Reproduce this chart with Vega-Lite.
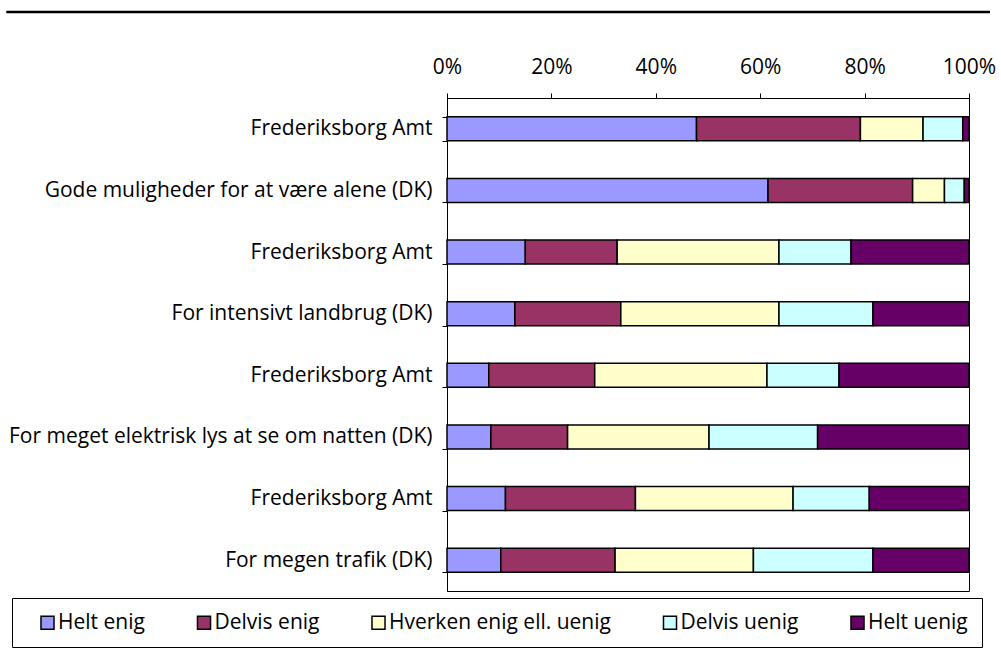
{
  "$schema": "https://vega.github.io/schema/vega-lite/v6.json",
  "padding": {"left": 5, "top": 2, "right": 4, "bottom": 2},
  "background": "white",
  "columns": 1,
  "align": "none",
  "spacing": 33,
  "config": {"font": "Open Sans", "view": {"stroke": null}},
  "concat": [
    {
      "width": 543,
      "height": 0,
      "data": {"values": [{"a": 0, "b": 1}]},
      "mark": {"type": "rule", "strokeWidth": 2.5, "color": "black"},
      "encoding": {
        "x": {"field": "a", "type": "quantitative", "axis": null, "scale": {"domain": [0.448, 1]}},
        "x2": {"field": "b"}
      }
    },
    {
      "width": 522,
      "height": 493,
      "view": {"stroke": "black", "strokeWidth": 1},
      "data": {"values": [
        {"id": "1|Frederiksborg Amt", "c": "Helt enig", "v": 47.8},
        {"id": "1|Frederiksborg Amt", "c": "Delvis enig", "v": 31.4},
        {"id": "1|Frederiksborg Amt", "c": "Hverken enig ell. uenig", "v": 12.0},
        {"id": "1|Frederiksborg Amt", "c": "Delvis uenig", "v": 7.6},
        {"id": "1|Frederiksborg Amt", "c": "Helt uenig", "v": 1.2},
        {"id": "2|Gode muligheder for at være alene (DK)", "c": "Helt enig", "v": 61.5},
        {"id": "2|Gode muligheder for at være alene (DK)", "c": "Delvis enig", "v": 27.7},
        {"id": "2|Gode muligheder for at være alene (DK)", "c": "Hverken enig ell. uenig", "v": 6.1},
        {"id": "2|Gode muligheder for at være alene (DK)", "c": "Delvis uenig", "v": 3.8},
        {"id": "2|Gode muligheder for at være alene (DK)", "c": "Helt uenig", "v": 0.9},
        {"id": "3|Frederiksborg Amt", "c": "Helt enig", "v": 15.0},
        {"id": "3|Frederiksborg Amt", "c": "Delvis enig", "v": 17.6},
        {"id": "3|Frederiksborg Amt", "c": "Hverken enig ell. uenig", "v": 31.0},
        {"id": "3|Frederiksborg Amt", "c": "Delvis uenig", "v": 13.8},
        {"id": "3|Frederiksborg Amt", "c": "Helt uenig", "v": 22.6},
        {"id": "4|For intensivt landbrug (DK)", "c": "Helt enig", "v": 13.0},
        {"id": "4|For intensivt landbrug (DK)", "c": "Delvis enig", "v": 20.3},
        {"id": "4|For intensivt landbrug (DK)", "c": "Hverken enig ell. uenig", "v": 30.3},
        {"id": "4|For intensivt landbrug (DK)", "c": "Delvis uenig", "v": 18.0},
        {"id": "4|For intensivt landbrug (DK)", "c": "Helt uenig", "v": 18.4},
        {"id": "5|Frederiksborg Amt", "c": "Helt enig", "v": 8.0},
        {"id": "5|Frederiksborg Amt", "c": "Delvis enig", "v": 20.3},
        {"id": "5|Frederiksborg Amt", "c": "Hverken enig ell. uenig", "v": 33.0},
        {"id": "5|Frederiksborg Amt", "c": "Delvis uenig", "v": 13.8},
        {"id": "5|Frederiksborg Amt", "c": "Helt uenig", "v": 24.9},
        {"id": "6|For meget elektrisk lys at se om natten (DK)", "c": "Helt enig", "v": 8.4},
        {"id": "6|For meget elektrisk lys at se om natten (DK)", "c": "Delvis enig", "v": 14.7},
        {"id": "6|For meget elektrisk lys at se om natten (DK)", "c": "Hverken enig ell. uenig", "v": 27.1},
        {"id": "6|For meget elektrisk lys at se om natten (DK)", "c": "Delvis uenig", "v": 20.8},
        {"id": "6|For meget elektrisk lys at se om natten (DK)", "c": "Helt uenig", "v": 29.0},
        {"id": "7|Frederiksborg Amt", "c": "Helt enig", "v": 11.2},
        {"id": "7|Frederiksborg Amt", "c": "Delvis enig", "v": 24.9},
        {"id": "7|Frederiksborg Amt", "c": "Hverken enig ell. uenig", "v": 30.2},
        {"id": "7|Frederiksborg Amt", "c": "Delvis uenig", "v": 14.6},
        {"id": "7|Frederiksborg Amt", "c": "Helt uenig", "v": 19.1},
        {"id": "8|For megen trafik (DK)", "c": "Helt enig", "v": 10.3},
        {"id": "8|For megen trafik (DK)", "c": "Delvis enig", "v": 21.9},
        {"id": "8|For megen trafik (DK)", "c": "Hverken enig ell. uenig", "v": 26.5},
        {"id": "8|For megen trafik (DK)", "c": "Delvis uenig", "v": 22.9},
        {"id": "8|For megen trafik (DK)", "c": "Helt uenig", "v": 18.4}
      ]},
      "transform": [
        {"calculate": "indexof(['Helt enig','Delvis enig','Hverken enig ell. uenig','Delvis uenig','Helt uenig'], datum.c)", "as": "o"}
      ],
      "mark": {"type": "bar", "stroke": "black", "strokeWidth": 1.5},
      "encoding": {
        "y": {
          "field": "id", "type": "nominal", "sort": null,
          "scale": {"paddingInner": 0.61, "paddingOuter": 0.305},
          "axis": {"title": null, "labelExpr": "split(datum.value,'|')[1]", "tickBand": "extent", "tickSize": 5, "labelPadding": 10, "labelFontSize": 21, "labelColor": "black", "domainColor": "black", "tickColor": "black", "labelLimit": 600}
        },
        "x": {
          "field": "v", "type": "quantitative", "stack": "normalize",
          "scale": {"domain": [0, 1]},
          "axis": {"orient": "top", "format": "%", "values": [0, 0.2, 0.4, 0.6, 0.8, 1], "grid": false, "title": null, "tickSize": 5, "labelPadding": 16, "labelFontSize": 21, "labelColor": "black", "domainColor": "black", "tickColor": "black", "labelFlush": false}
        },
        "order": {"field": "o", "type": "quantitative"},
        "color": {
          "field": "c", "type": "nominal",
          "sort": ["Helt enig", "Delvis enig", "Hverken enig ell. uenig", "Delvis uenig", "Helt uenig"],
          "scale": {"domain": ["Helt enig", "Delvis enig", "Hverken enig ell. uenig", "Delvis uenig", "Helt uenig"], "range": ["#9999FF", "#993366", "#FFFFCC", "#CCFFFF", "#660066"]},
          "legend": {"orient": "none", "legendX": -435, "legendY": 596, "direction": "horizontal", "title": null, "symbolType": "square", "symbolSize": 170, "symbolStrokeColor": "black", "symbolStrokeWidth": 1.5, "symbolOffset": 11, "labelOffset": 0, "labelFontSize": 21, "labelColor": "black", "columnPadding": 37.5, "padding": 14, "strokeColor": "black", "labelLimit": 400}
        }
      }
    }
  ]
}
